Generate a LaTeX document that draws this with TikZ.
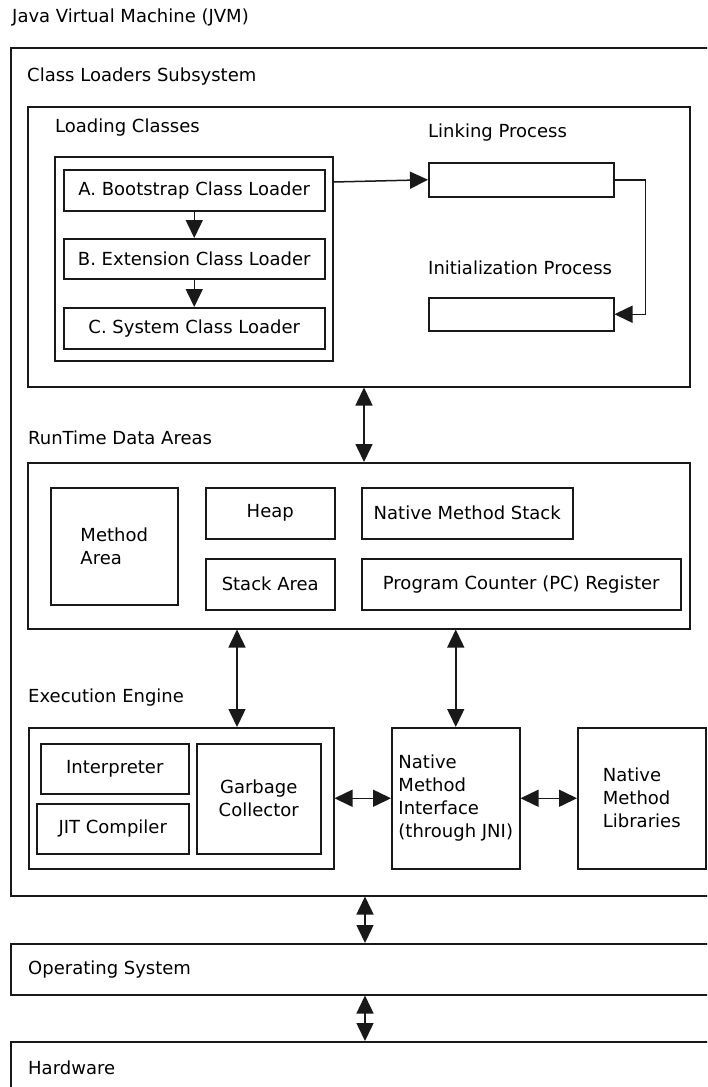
\documentclass[tikz,border=0pt]{standalone}
\usepackage{fontspec}
\setmainfont{DejaVu Sans}
\usetikzlibrary{arrows.meta}
\begin{document}
\begin{tikzpicture}[x=1pt,y=-1pt,
  font=\fontsize{18}{23}\selectfont,
  box/.style={draw=black!90, line width=1.5pt, inner sep=0pt, align=center, anchor=north west},
  lbl/.style={anchor=west, inner sep=0pt},
  tip/.tip={Triangle[length=18pt,width=17pt]},
  arr/.style={line width=1.5pt, draw=black!90, -tip},
  darr/.style={line width=1.5pt, draw=black!90, tip-tip}]
\useasboundingbox (0,0) rectangle (707,1087);
\clip (0,0) rectangle (707,1087);
% titles
\node[lbl] (tjvm) at (12,17) {Java Virtual Machine (JVM)};
\node[box, minimum width=720pt, minimum height=848pt] (jvm) at (10,47) {};
\node[lbl] (tcls) at (27,77) {Class Loaders Subsystem};
\node[box, minimum width=662pt, minimum height=280pt] (cls) at (27,106) {};
\node[lbl] (tload) at (55,128) {Loading Classes};
\node[box, minimum width=278pt, minimum height=204pt] (load) at (54,156) {};
\node[box, minimum width=261pt, minimum height=41pt] (boot) at (63,169) {A. Bootstrap Class Loader};
\node[box, minimum width=261pt, minimum height=40pt] (ext) at (63,238) {B. Extension Class Loader};
\node[box, minimum width=261pt, minimum height=41pt] (sys) at (63,307) {C. System Class Loader};
\node[lbl] (tlink) at (428,133) {Linking Process};
\node[box, minimum width=185pt, minimum height=34pt] (link) at (428,162) {};
\node[lbl] (tinit) at (428,268) {Initialization Process};
\node[box, minimum width=185pt, minimum height=33pt] (init) at (428,297) {};
% runtime
\node[lbl] (trt) at (28,438) {RunTime Data Areas};
\node[box, minimum width=662pt, minimum height=166pt] (rt) at (27,462) {};
\node[box, minimum width=127pt, minimum height=117pt, align=left] (meth) at (50,487) {Method\\Area};
\node[box, minimum width=129pt, minimum height=51pt] (heap) at (205,487) {Heap};
\node[box, minimum width=211pt, minimum height=51pt] (nms) at (361,487) {Native Method Stack};
\node[box, minimum width=129pt, minimum height=51pt] (stack) at (205,558) {Stack Area};
\node[box, minimum width=319pt, minimum height=51pt] (pc) at (361,558) {Program Counter (PC) Register};
% execution
\node[lbl] (texe) at (28,698) {Execution Engine};
\node[box, minimum width=305pt, minimum height=141pt] (exe) at (28,727) {};
\node[box, minimum width=148pt, minimum height=50pt] (interp) at (40,743) {Interpreter};
\node[box, minimum width=152pt, minimum height=50pt] (jit) at (36,803) {JIT Compiler};
\node[box, minimum width=124pt, minimum height=110pt] (gc) at (196,743) {Garbage\\Collector};
\node[box, minimum width=128pt, minimum height=141pt, align=left] (nmi) at (391,727) {Native\\Method\\Interface\\(through JNI)};
\node[box, minimum width=128pt, minimum height=141pt, align=left] (nml) at (577,727) {Native\\Method\\Libraries};
% OS / HW
\node[box, minimum width=720pt, minimum height=51pt] (os) at (10,943) {};
\node[lbl] (tos) at (28,970) {Operating System};
\node[box, minimum width=720pt, minimum height=80pt] (hw) at (10,1041) {};
\node[lbl] (thw) at (28,1068) {Hardware};
% connectors
\draw[arr] (boot) -- (ext);
\draw[arr] (ext) -- (sys);
\draw[arr] ([yshift=-26pt]load.north east) -- (link.west);
\draw[arr] (link.east) -- ++(31,0) |- (init.east);
\draw[darr] (cls.south -| 364,0) -- (rt.north -| 364,0);
\draw[darr] (rt.south -| 237,0) -- (exe.north -| 237,0);
\draw[darr] (rt.south -| nmi.north) -- (nmi.north);
\draw[darr] (exe.east) -- (nmi.west);
\draw[darr] (nmi.east) -- (nml.west);
\draw[darr] (jvm.south -| 365,0) -- (os.north -| 365,0);
\draw[darr] (os.south -| 365,0) -- (hw.north -| 365,0);
\end{tikzpicture}
\end{document}
